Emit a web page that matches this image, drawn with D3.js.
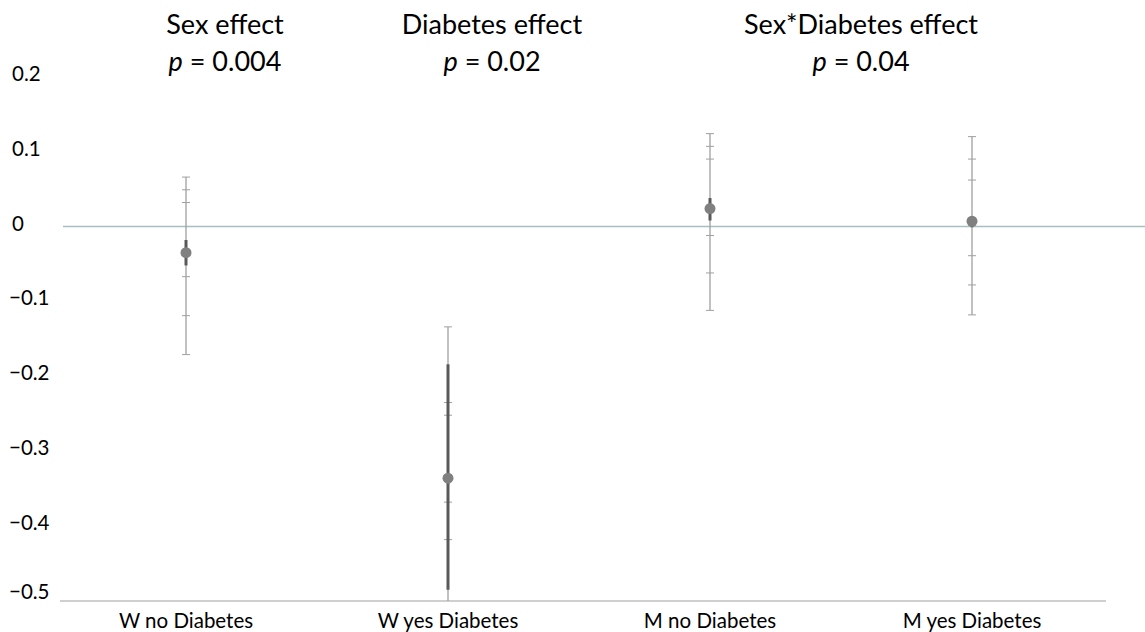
<!DOCTYPE html>
<html>
<head>
<meta charset="utf-8">
<script src="https://cdn.jsdelivr.net/npm/d3@7"></script>
<style>
  body { margin: 0; background: #fff; }
  svg text { font-family: Lato, "Open Sans", sans-serif; fill: #000; }
</style>
</head>
<body>
<div id="chart"></div>
<script>
const width = 1145,
  height = 632;

// group labels and estimates
const categories = ["W no Diabetes", "W yes Diabetes", "M no Diabetes", "M yes Diabetes"];
const means = [-0.035, -0.336, 0.024, 0.007];
// dark inner bar
const innerLow = [-0.052, -0.485, 0.008, -0.001];
const innerHigh = [-0.018, -0.184, 0.038, 0.014];
// thin outer whisker
const outerLow = [-0.171, -0.54, -0.112, -0.118];
const outerHigh = [0.066, -0.134, 0.124, 0.120];
// small cap marks along the whisker
const capsUpper = [[0.066, 0.049, 0.032], [-0.134, -0.235, -0.252], [0.124, 0.107, 0.090], [0.120, 0.090, 0.062]];
const capsLower = [[-0.067, -0.119, -0.171], [-0.368, -0.418], [-0.012, -0.062, -0.112], [-0.039, -0.078, -0.118]];

const yTicks = [0.2, 0.1, 0, -0.1, -0.2, -0.3, -0.4, -0.5];
const tickLabels = ["0.2", "0.1", "0", "\u22120.1", "\u22120.2", "\u22120.3", "\u22120.4", "\u22120.5"];

const titles = [
  { name: "Sex effect", p: "0.004", cx: 225 },
  { name: "Diabetes effect", p: "0.02", cx: 492 },
  { name: "Sex*Diabetes effect", p: "0.04", cx: 861 }
];

const x = d3.scalePoint()
  .domain(categories)
  .range([55, 1103])
  .padding(0.5);

const y = d3.scaleLinear()
  .domain([-0.5, 0.2])
  .range([601, 76.7])
  .clamp(true);

const svg = d3.select("#chart")
  .append("svg")
  .attr("width", width)
  .attr("height", height)
  .attr("viewBox", [0, 0, width, height]);

// y tick labels (no axis line in the original)
svg.append("g")
  .selectAll("text")
  .data(yTicks)
  .join("text")
  .attr("x", d => d < 0 ? 9 : 12)
  .attr("y", d => Math.min(y(d) + 4, 599))
  .attr("font-size", 20.5)
  .text((d, i) => tickLabels[i]);

// bottom axis line
svg.append("line")
  .attr("x1", 60).attr("x2", 1106)
  .attr("y1", y(-0.5)).attr("y2", y(-0.5))
  .attr("stroke", "#bfbfbf")
  .attr("stroke-width", 1.3);

// zero reference line
svg.append("line")
  .attr("x1", 63).attr("x2", width)
  .attr("y1", y(0)).attr("y2", y(0))
  .attr("stroke", "#a7bfc0")
  .attr("stroke-width", 1.6);

// category labels
svg.append("g")
  .selectAll("text")
  .data(categories)
  .join("text")
  .attr("x", d => x(d))
  .attr("y", 628)
  .attr("text-anchor", "middle")
  .attr("font-size", 20.5)
  .text(d => d);

const groups = svg.append("g")
  .selectAll("g")
  .data(categories)
  .join("g")
  .attr("transform", d => `translate(${x(d)},0)`);

// thin whisker
groups.append("line")
  .attr("y1", (d, i) => y(outerHigh[i]))
  .attr("y2", (d, i) => y(outerLow[i]))
  .attr("stroke", "#a0a0a0")
  .attr("stroke-width", 1.3);

// caps
groups.selectAll(".cap")
  .data((d, i) => capsUpper[i].concat(capsLower[i]))
  .join("line")
  .attr("class", "cap")
  .attr("x1", -4).attr("x2", 4)
  .attr("y1", d => y(d)).attr("y2", d => y(d))
  .attr("stroke", "#a0a0a0")
  .attr("stroke-width", 1);

// dark inner bar
groups.append("line")
  .attr("y1", (d, i) => y(innerHigh[i]))
  .attr("y2", (d, i) => y(innerLow[i]))
  .attr("stroke", "#595959")
  .attr("stroke-width", 3);

// mean marker
groups.append("circle")
  .attr("cy", (d, i) => y(means[i]))
  .attr("r", 5.5)
  .attr("fill", "#808080");

// effect titles
const t = svg.append("g")
  .selectAll("g")
  .data(titles)
  .join("g");

t.append("text")
  .attr("x", d => d.cx)
  .attr("y", 34)
  .attr("text-anchor", "middle")
  .attr("font-size", 27)
  .text(d => d.name);

const pt = t.append("text")
  .attr("x", d => d.cx)
  .attr("y", 71)
  .attr("text-anchor", "middle")
  .attr("font-size", 27);
pt.append("tspan").attr("font-style", "italic").text("p");
pt.append("tspan").text(d => " = " + d.p);
</script>
</body>
</html>
